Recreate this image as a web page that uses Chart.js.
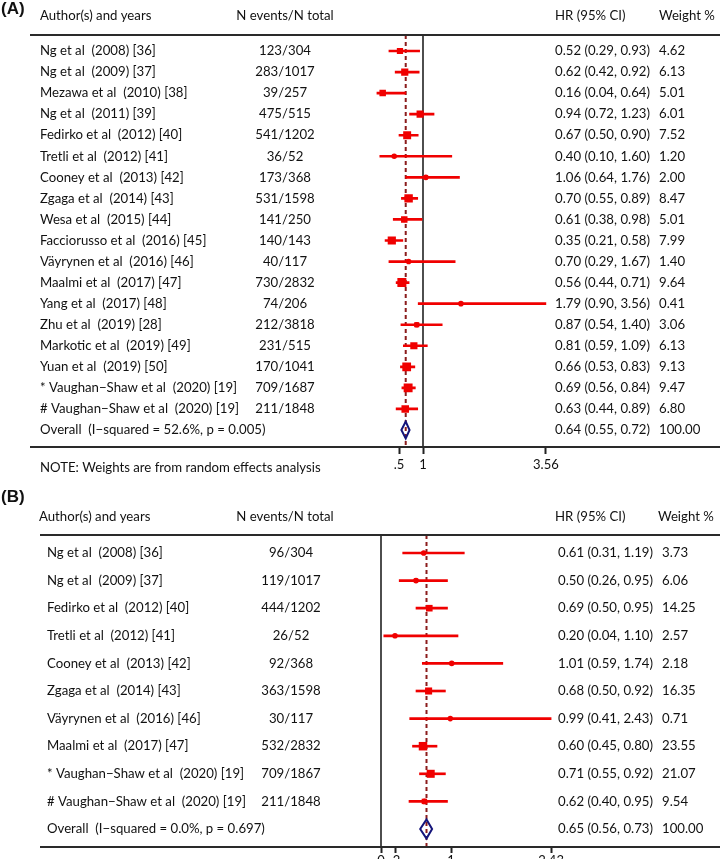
<!DOCTYPE html>
<html>
<head>
<meta charset="utf-8">
<script src="https://cdn.jsdelivr.net/npm/chart.js@4.4.1/dist/chart.umd.min.js"></script>
<style>
  html, body { margin: 0; padding: 0; background: #fff; overflow: hidden; }
  #wrap { position: relative; width: 720px; height: 859px; }
  canvas { position: absolute; left: 0; }
  #chartA { top: 0; }
  #chartB { top: 480px; }
</style>
</head>
<body>
<div id="wrap">
  <canvas id="chartA" width="720" height="480"></canvas>
  <canvas id="chartB" width="720" height="400"></canvas>
</div>
<script>
// ---- panel A data ----
const studiesA = [
  'Ng et al  (2008) [36]', 'Ng et al  (2009) [37]', 'Mezawa et al  (2010) [38]', 'Ng et al  (2011) [39]',
  'Fedirko et al  (2012) [40]', 'Tretli et al  (2012) [41]', 'Cooney et al  (2013) [42]', 'Zgaga et al  (2014) [43]',
  'Wesa et al  (2015) [44]', 'Facciorusso et al  (2016) [45]', 'Väyrynen et al  (2016) [46]', 'Maalmi et al  (2017) [47]',
  'Yang et al  (2017) [48]', 'Zhu et al  (2019) [28]', 'Markotic et al  (2019) [49]', 'Yuan et al  (2019) [50]',
  '* Vaughan−Shaw et al  (2020) [19]', '# Vaughan−Shaw et al  (2020) [19]'
];
const eventsA = ['123/304', '283/1017', '39/257', '475/515', '541/1202', '36/52', '173/368', '531/1598', '141/250',
  '140/143', '40/117', '730/2832', '74/206', '212/3818', '231/515', '170/1041', '709/1687', '211/1848'];
const hrA = [0.52, 0.62, 0.16, 0.94, 0.67, 0.40, 1.06, 0.70, 0.61, 0.35, 0.70, 0.56, 1.79, 0.87, 0.81, 0.66, 0.69, 0.63];
const loA = [0.29, 0.42, 0.04, 0.72, 0.50, 0.10, 0.64, 0.55, 0.38, 0.21, 0.29, 0.44, 0.90, 0.54, 0.59, 0.53, 0.56, 0.44];
const hiA = [0.93, 0.92, 0.64, 1.23, 0.90, 1.60, 1.76, 0.89, 0.98, 0.58, 1.67, 0.71, 3.56, 1.40, 1.09, 0.83, 0.84, 0.89];
const weightA = [4.62, 6.13, 5.01, 6.01, 7.52, 1.20, 2.00, 8.47, 5.01, 7.99, 1.40, 9.64, 0.41, 3.06, 6.13, 9.13, 9.47, 6.80];
const overallLabelA = 'Overall  (I−squared = 52.6%, p = 0.005)';
const overallA = [0.64, 0.55, 0.72];
const ticksA = [0.5, 1, 3.56];
const tickLabelsA = ['.5', '1', '3.56'];

// ---- panel B data ----
const studiesB = [
  'Ng et al  (2008) [36]', 'Ng et al  (2009) [37]', 'Fedirko et al  (2012) [40]', 'Tretli et al  (2012) [41]',
  'Cooney et al  (2013) [42]', 'Zgaga et al  (2014) [43]', 'Väyrynen et al  (2016) [46]', 'Maalmi et al  (2017) [47]',
  '* Vaughan−Shaw et al  (2020) [19]', '# Vaughan−Shaw et al  (2020) [19]'
];
const eventsB = ['96/304', '119/1017', '444/1202', '26/52', '92/368', '363/1598', '30/117', '532/2832', '709/1867', '211/1848'];
const hrB = [0.61, 0.50, 0.69, 0.20, 1.01, 0.68, 0.99, 0.60, 0.71, 0.62];
const loB = [0.31, 0.26, 0.50, 0.04, 0.59, 0.50, 0.41, 0.45, 0.55, 0.40];
const hiB = [1.19, 0.95, 0.95, 1.10, 1.74, 0.92, 2.43, 0.80, 0.92, 0.95];
const weightB = [3.73, 6.06, 14.25, 2.57, 2.18, 16.35, 0.71, 23.55, 21.07, 9.54];
const overallLabelB = 'Overall  (I−squared = 0.0%, p = 0.697)';
const overallB = [0.65, 0.56, 0.73];
const ticksB = [0, 0.2, 1, 2.43];
const tickLabelsB = ['0', '.2', '1', '2.43'];

const FONT = 'Lato, "Open Sans", sans-serif';
const RED = '#f00000';
const fmt = v => v.toFixed(2);

// text columns, header/footer rules and the overall diamond
const forestText = {
  id: 'forestText',
  afterDatasetsDraw(chart, args, o) {
    const {ctx, scales: {x, y}} = chart;
    const yc = y.getPixelForValue(o.names.length);
    const [hr, lo, hi] = o.overall;
    ctx.save();
    ctx.beginPath();
    ctx.moveTo(x.getPixelForValue(lo), yc);
    ctx.lineTo(x.getPixelForValue(hr), yc - o.diamondH);
    ctx.lineTo(x.getPixelForValue(hi), yc);
    ctx.lineTo(x.getPixelForValue(hr), yc + o.diamondH);
    ctx.closePath();
    ctx.lineWidth = 2;
    ctx.strokeStyle = '#14147a';
    ctx.stroke();
    ctx.restore();
  },
  afterDraw(chart, args, o) {
    const {ctx, chartArea, scales: {y}} = chart;
    ctx.save();
    ctx.fillStyle = '#111';
    ctx.textBaseline = 'middle';
    ctx.font = 'bold 17px Arial, "Liberation Sans", sans-serif';
    ctx.textAlign = 'left';
    ctx.fillText(o.panel, 1, o.panelY);

    ctx.font = o.fontSize + 'px ' + FONT;
    ctx.fillText('Author(s) and years', o.head.name, o.headY);
    ctx.fillText('HR (95% CI)', o.head.hr, o.headY);
    ctx.fillText('Weight %', o.head.weight, o.headY);
    ctx.textAlign = 'center';
    ctx.fillText('N events/N total', o.head.events, o.headY);

    const n = o.names.length;
    for (let i = 0; i <= n; i++) {
      const py = y.getPixelForValue(i);
      const isOverall = i === n;
      const hr = isOverall ? o.overall[0] : o.hr[i];
      const lo = isOverall ? o.overall[1] : o.lo[i];
      const hi = isOverall ? o.overall[2] : o.hi[i];
      ctx.textAlign = 'left';
      ctx.fillText(isOverall ? o.overallLabel : o.names[i], o.col.name, py);
      ctx.fillText(fmt(hr) + ' (' + fmt(lo) + ', ' + fmt(hi) + ')', o.col.hr, py);
      ctx.fillText(isOverall ? '100.00' : fmt(o.weight[i]), o.col.weight, py);
      if (!isOverall) {
        ctx.textAlign = 'center';
        ctx.fillText(o.events[i], o.col.events, py);
      }
    }
    if (o.note) {
      ctx.textAlign = 'left';
      ctx.fillText(o.note, o.col.name, o.noteY);
    }

    ctx.strokeStyle = '#2a2a2a';
    ctx.lineWidth = 2;
    [chartArea.top, chartArea.bottom].forEach(py => {
      ctx.beginPath();
      ctx.moveTo(o.ruleX, py);
      ctx.lineTo(720, py);
      ctx.stroke();
    });
    ctx.restore();
  }
};

function forestChart(id, d) {
  const pts = d.hr.map((v, i) => ({x: v, y: i}));
  return new Chart(document.getElementById(id), {
    type: 'bar',
    data: {
      datasets: [
        {type: 'scatter', data: pts, pointStyle: 'circle', pointRadius: 2.8,
          backgroundColor: RED, borderWidth: 0},
        {type: 'scatter', data: pts, pointStyle: 'rect',
          pointRadius: d.weight.map(w => d.boxK * Math.sqrt(w) / Math.SQRT2),
          backgroundColor: RED, borderWidth: 0},
        {type: 'bar', indexAxis: 'y', data: d.lo.map((l, i) => ({x: [l, d.hi[i]], y: i})),
          barThickness: 2, backgroundColor: RED, borderWidth: 0},
        {type: 'line', data: [{x: d.overall[0], y: d.yMin}, {x: d.overall[0], y: d.yMax}],
          borderColor: '#8b1c1c', borderWidth: 2, borderDash: [4, 3], pointRadius: 0, clip: false},
        {type: 'line', data: [{x: d.nullX, y: d.yMin}, {x: d.nullX, y: d.yMax}],
          borderColor: '#222', borderWidth: 1.6, pointRadius: 0, clip: false}
      ]
    },
    options: {
      responsive: false,
      animation: false,
      events: [],
      layout: {padding: {left: d.left, right: 720 - d.left - d.pxPerUnit * d.xMax, top: d.top, bottom: 0}},
      scales: {
        x: {
          type: 'linear', min: 0, max: d.xMax, offset: false,
          afterBuildTicks: s => { s.ticks = d.ticks.map(v => ({value: v})); },
          afterFit: s => { s.height = d.axisH; },
          ticks: {autoSkip: false, maxRotation: 0, padding: d.tickPad, color: '#111',
            font: {family: FONT, size: 13}, callback: (v, i) => d.tickLabels[i]},
          grid: {display: true, drawOnChartArea: false, drawTicks: true, offset: false,
            tickLength: d.tickLen, tickWidth: 2, tickColor: '#222'},
          border: {display: false}
        },
        y: {type: 'linear', display: false, reverse: true, min: d.yMin, max: d.yMax, offset: false,
          grid: {offset: false}}
      },
      plugins: {
        legend: {display: false},
        tooltip: {enabled: false},
        forestText: {
          panel: d.panel, panelY: d.panelY, headY: d.headY, fontSize: 13.2,
          head: d.head, col: d.col, names: d.names, events: d.events,
          hr: d.hr, lo: d.lo, hi: d.hi, weight: d.weight,
          overall: d.overall, overallLabel: d.overallLabel,
          note: d.note, noteY: d.noteY, ruleX: d.ruleX, diamondH: d.diamondH
        }
      }
    },
    plugins: [forestText]
  });
}

forestChart('chartA', {
  panel: '(A)', panelY: 9, headY: 16, top: 35, axisH: 33, tickLen: 7, tickPad: 3,
  left: 375, pxPerUnit: 48, xMax: 3.6, nullX: 1,
  yMin: -0.76, yMax: 18.807, boxK: 2.9, diamondH: 8.5, ruleX: 30,
  head: {name: 40, events: 285, hr: 555, weight: 659},
  col: {name: 40, events: 285, hr: 555, weight: 659},
  names: studiesA, events: eventsA, hr: hrA, lo: loA, hi: hiA, weight: weightA,
  overall: overallA, overallLabel: overallLabelA,
  ticks: ticksA, tickLabels: tickLabelsA,
  note: 'NOTE: Weights are from random effects analysis', noteY: 468
});

forestChart('chartB', {
  panel: '(B)', panelY: 17, headY: 37, top: 55, axisH: 33, tickLen: 6, tickPad: 0,
  left: 381, pxPerUnit: 70, xMax: 2.5, nullX: 0,
  yMin: -0.652, yMax: 10.652, boxK: 1.75, diamondH: 9.5, ruleX: 40,
  head: {name: 39, events: 285, hr: 555, weight: 658},
  col: {name: 47, events: 291, hr: 558, weight: 662},
  names: studiesB, events: eventsB, hr: hrB, lo: loB, hi: hiB, weight: weightB,
  overall: overallB, overallLabel: overallLabelB,
  ticks: ticksB, tickLabels: tickLabelsB,
  note: null, noteY: 0
});
</script>
</body>
</html>
